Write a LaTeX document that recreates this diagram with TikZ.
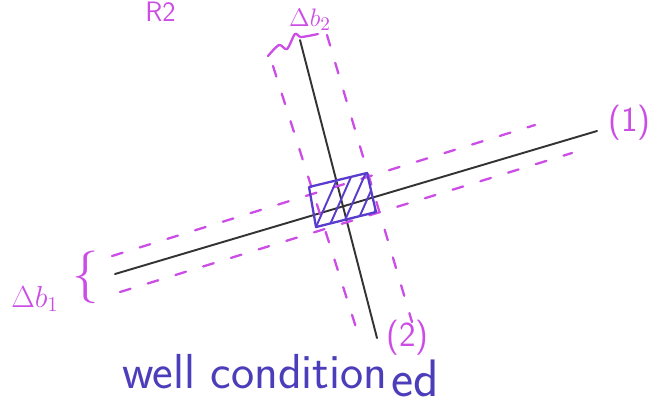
\documentclass[tikz,border=0pt]{standalone}
\usepackage{tikz}
\usetikzlibrary{positioning}
\definecolor{bandpink}{RGB}{204,76,230}
\definecolor{inkblue}{RGB}{76,62,186}
\definecolor{boxblue}{RGB}{90,60,205}

\begin{document}
\begin{tikzpicture}[
  x=0.2mm, y=-0.2mm,
  node distance=1mm and 1.5mm,
  eqline/.style={draw=black!80, line width=1.1pt, line cap=round},
  band/.style={draw=bandpink, line width=1.3pt, dash pattern=on 2.2mm off 3.6mm, line cap=round},
  note/.style={text=bandpink, inner sep=0pt, font=\sffamily\fontsize{20}{20}\selectfont},
  boxline/.style={draw=boxblue, line width=1.3pt, line join=round},
  hatch/.style={draw=boxblue, line width=1.1pt, line cap=round},
  ink/.style={text=inkblue, inner sep=0pt, font=\sffamily\fontsize{28}{28}\selectfont}
]
\useasboundingbox (0,0) rectangle (649,407);

% the two equations
\coordinate (l1a) at (115,274);
\coordinate (l1b) at (597,131);
\coordinate (l2a) at (300,40);
\coordinate (l2b) at (377,338);
\draw[eqline] (l1a) -- (l1b);
\draw[eqline] (l2a) -- (l2b);

% uncertainty bands
\coordinate (b1u) at (112,256);
\coordinate (b1v) at (535,125);
\coordinate (b1l) at (120,292);
\coordinate (b1m) at (572,153);
\coordinate (b2l) at (273,66);
\coordinate (b2m) at (360,340);
\coordinate (b2r) at (327,35);
\coordinate (b2s) at (412,322);
\draw[band] (b1u) -- (b1v);
\draw[band] (b1l) -- (b1m);
\draw[band] (b2l) -- (b2m);
\draw[band] (b2r) -- (b2s);

% intersection region
\coordinate (p1) at (309,187);
\coordinate (p2) at (367,173);
\coordinate (p3) at (376,212);
\coordinate (p4) at (316,227);
\begin{scope}
  \clip (p1) -- (p2) -- (p3) -- (p4) -- cycle;
  \foreach \i in {0,...,4}
    \draw[hatch] (312+13*\i,236) -- (342+13*\i,168);
\end{scope}
\draw[boxline] (p1) -- (p2) -- (p3) -- (p4) -- cycle;

% labels
\node[note, anchor=west] (n1) at (608,123) {(1)};
\node[note, anchor=west] (n2) at (386,338) {(2)};
\node[note, font=\sffamily\fontsize{15}{15}\selectfont] (db2) at (310,20) {$\Delta b_2$};
\draw[bandpink, line width=1.3pt, line cap=round, line join=round]
  plot[smooth] coordinates {(268,56) (279,45) (287,49) (295,34) (301,37) (318,34)};
\node[note, font=\sffamily\fontsize{18}{18}\selectfont] (db1) at (35,299) {$\Delta b_1$};
\node[note, font=\fontsize{30}{30}\selectfont] (br1) at (86,277) {\{};
\node[note, anchor=base west, font=\sffamily\fontsize{16}{16}\selectfont] (r2) at (145,21) {R2};

\node[ink, anchor=base west] (wc) at (122,388) {well condition};
\node[ink, font=\sffamily\fontsize{30}{30}\selectfont,
      right=0.6mm of wc.base east, anchor=base west, yshift=-1.6mm] (ed) {ed};
\end{tikzpicture}
\end{document}
